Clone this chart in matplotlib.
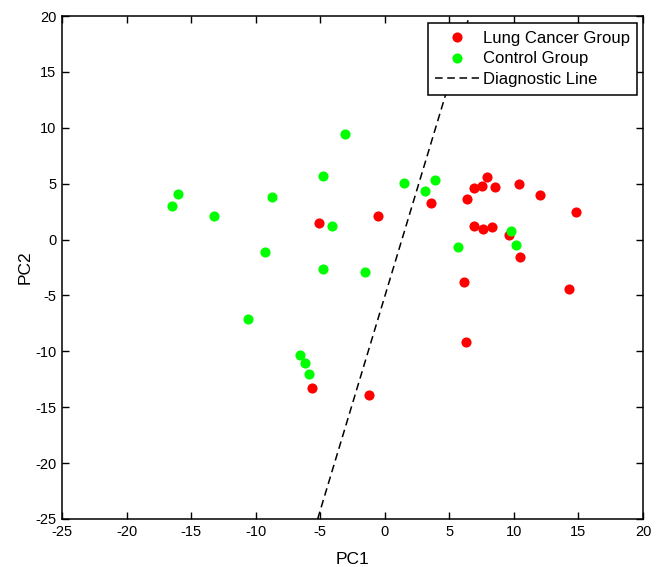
import matplotlib.pyplot as plt

plt.rcParams['font.family'] = ['Liberation Sans', 'DejaVu Sans']
plt.rcParams['axes.unicode_minus'] = False

# PC scores
cancer_pc1 = [-5.1, -0.5, 3.6, 6.35, 6.9, 7.5, 7.9, 8.5, 10.4, 12.0, 14.8,
              6.9, 7.6, 8.3, 9.6, 10.5, 6.1, 14.3, 6.3, -1.2, -5.6]
cancer_pc2 = [1.5, 2.1, 3.25, 3.6, 4.6, 4.8, 5.6, 4.7, 5.0, 4.0, 2.5,
              1.2, 0.9, 1.1, 0.4, -1.6, -3.8, -4.45, -9.2, -13.9, -13.3]

control_pc1 = [-16.5, -16.0, -13.2, -8.7, -9.3, -4.8, -4.1, -4.8, -3.1, -1.5,
               1.5, 3.1, 3.9, 9.75, 10.2, 5.7, -10.6, -6.6, -6.2, -5.9]
control_pc2 = [3.0, 4.1, 2.1, 3.8, -1.1, 5.7, 1.2, -2.6, 9.4, -2.9,
               5.1, 4.3, 5.3, 0.8, -0.5, -0.7, -7.1, -10.3, -11.0, -12.0]

line_pc1 = [-5.2, 6.55]
line_pc2 = [-25, 20]

fig = plt.figure(figsize=(6.59, 5.67), dpi=100)
ax = fig.add_axes([62 / 659, 48 / 567, 581 / 659, 503 / 567])

ax.plot(cancer_pc1, cancer_pc2, 'o', color='#ff0000', markersize=7.3,
        markeredgewidth=0, label='Lung Cancer Group')
ax.plot(control_pc1, control_pc2, 'o', color='#00ff00', markersize=7.3,
        markeredgewidth=0, label='Control Group')
ax.plot(line_pc1, line_pc2, '--', color='black', linewidth=1.1,
        dashes=(5, 3), label='Diagnostic Line')

ax.set_xlim(-25, 20)
ax.set_ylim(-25, 20)
ax.set_xticks(range(-25, 21, 5))
ax.set_yticks(range(-25, 21, 5))
ax.tick_params(direction='in', top=True, right=True, length=5, width=1,
               labelsize=10.5, pad=4)
for s in ax.spines.values():
    s.set_linewidth(1.1)

ax.set_xlabel('PC1', fontsize=12.5, labelpad=10)
ax.set_ylabel('PC2', fontsize=12.5, labelpad=2)

leg = ax.legend(loc='upper right', bbox_to_anchor=(0.99, 0.986),
                fontsize=12, frameon=True, fancybox=False, framealpha=1,
                edgecolor='black', borderpad=0.45, labelspacing=0.35,
                handlelength=2.6, handletextpad=0.25, borderaxespad=0)
leg.get_frame().set_linewidth(1.1)

fig.savefig('out.png', dpi=100)
